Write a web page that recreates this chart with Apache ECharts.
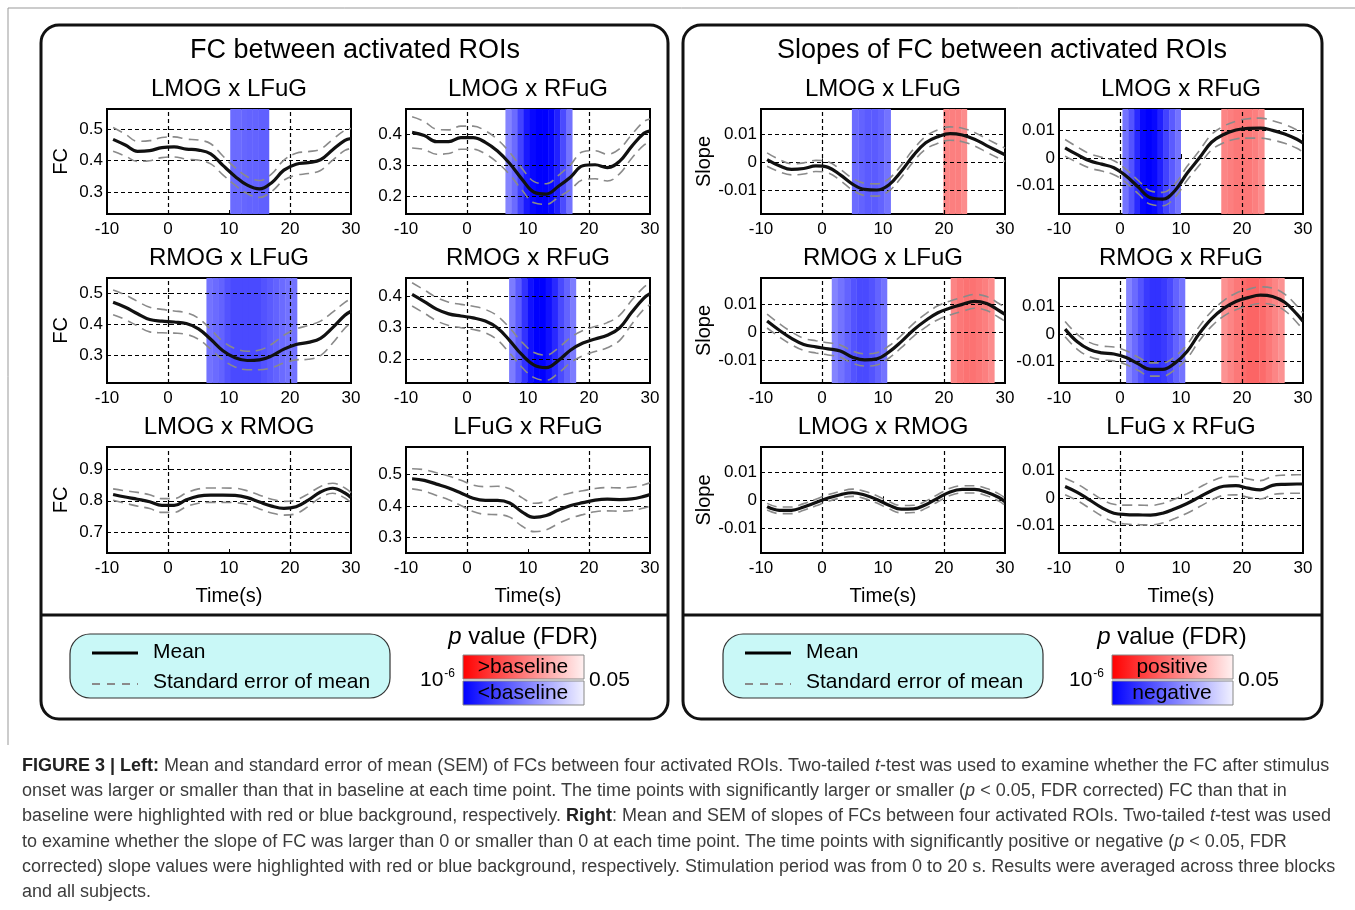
<!DOCTYPE html>
<html>
<head>
<meta charset="utf-8">
<script src="https://cdn.jsdelivr.net/npm/echarts@6/dist/echarts.min.js"></script>
<style>
  body { margin: 0; background: #fff; }
  #chart { position: absolute; left: 0; top: 0; width: 1355px; height: 910px; }
  #caption {
    position: absolute; left: 22px; top: 753px;
    font-family: 'Liberation Sans', Arial, sans-serif;
    font-size: 18px; line-height: 25.2px; color: #3c3c3c;
    white-space: nowrap;
  }
  #caption b { color: #222; }
</style>
</head>
<body>
<div id="chart"></div>
<div id="caption">
  <div><b>FIGURE 3 | Left:</b> Mean and standard error of mean (SEM) of FCs between four activated ROIs. Two-tailed <i>t</i>-test was used to examine whether the FC after stimulus</div>
  <div>onset was larger or smaller than that in baseline at each time point. The time points with significantly larger or smaller (<i>p</i> &lt; 0.05, FDR corrected) FC than that in</div>
  <div>baseline were highlighted with red or blue background, respectively. <b>Right</b>: Mean and SEM of slopes of FCs between four activated ROIs. Two-tailed <i>t</i>-test was used</div>
  <div>to examine whether the slope of FC was larger than 0 or smaller than 0 at each time point. The time points with significantly positive or negative (<i>p</i> &lt; 0.05, FDR</div>
  <div>corrected) slope values were highlighted with red or blue background, respectively. Stimulation period was from 0 to 20 s. Results were averaged across three blocks</div>
  <div>and all subjects.</div>
</div>
<script>
// 时间点 (s)
const times = [-9, -7, -5, -3, -1, 1, 3, 5, 7, 9, 11, 13, 15, 17, 19, 21, 23, 25, 27, 29, 30]
const xTicks = [-10, 0, 10, 20, 30]
const stimLines = [0, 20]

// FC 均值 / SEM
const fcLmogLfug = [0.468, 0.45, 0.43, 0.432, 0.442, 0.444, 0.437, 0.434, 0.422, 0.385, 0.35, 0.322, 0.31, 0.33, 0.37, 0.389, 0.394, 0.403, 0.435, 0.465, 0.471]
const fcLmogLfugSem = [0.038, 0.035, 0.032, 0.032, 0.032, 0.032, 0.032, 0.032, 0.032, 0.03, 0.028, 0.027, 0.027, 0.028, 0.032, 0.035, 0.035, 0.034, 0.033, 0.032, 0.032]
const fcLmogRfug = [0.405, 0.395, 0.375, 0.375, 0.388, 0.388, 0.373, 0.345, 0.305, 0.255, 0.213, 0.207, 0.232, 0.262, 0.298, 0.301, 0.292, 0.312, 0.36, 0.402, 0.41]
const fcLmogRfugSem = [0.05, 0.045, 0.04, 0.038, 0.037, 0.037, 0.037, 0.037, 0.036, 0.035, 0.034, 0.033, 0.035, 0.04, 0.045, 0.045, 0.043, 0.04, 0.038, 0.038, 0.038]
const fcRmogLfug = [0.472, 0.456, 0.435, 0.416, 0.411, 0.408, 0.403, 0.386, 0.352, 0.315, 0.292, 0.283, 0.285, 0.298, 0.32, 0.335, 0.342, 0.355, 0.39, 0.43, 0.443]
const fcRmogLfugSem = [0.04, 0.04, 0.04, 0.04, 0.038, 0.036, 0.035, 0.034, 0.032, 0.03, 0.03, 0.03, 0.032, 0.038, 0.045, 0.05, 0.055, 0.056, 0.05, 0.042, 0.04]
const fcRmogRfug = [0.405, 0.382, 0.358, 0.343, 0.336, 0.33, 0.32, 0.298, 0.258, 0.213, 0.18, 0.172, 0.195, 0.228, 0.25, 0.263, 0.275, 0.298, 0.348, 0.393, 0.407]
const fcRmogRfugSem = [0.037, 0.037, 0.037, 0.037, 0.037, 0.037, 0.037, 0.038, 0.04, 0.04, 0.04, 0.04, 0.04, 0.04, 0.04, 0.04, 0.04, 0.04, 0.038, 0.035, 0.035]
const fcLmogRmog = [0.82, 0.812, 0.805, 0.797, 0.785, 0.785, 0.803, 0.815, 0.818, 0.818, 0.817, 0.81, 0.796, 0.783, 0.776, 0.781, 0.802, 0.828, 0.84, 0.825, 0.81]
const fcLmogRmogSem = [0.018, 0.02, 0.022, 0.022, 0.022, 0.022, 0.022, 0.023, 0.023, 0.023, 0.023, 0.022, 0.022, 0.022, 0.022, 0.022, 0.02, 0.018, 0.016, 0.016, 0.016]
const fcLfugRfug = [0.487, 0.482, 0.47, 0.458, 0.442, 0.425, 0.418, 0.418, 0.41, 0.382, 0.364, 0.37, 0.388, 0.402, 0.411, 0.419, 0.422, 0.421, 0.423, 0.431, 0.437]
const fcLfugRfugSem = [0.032, 0.034, 0.036, 0.038, 0.04, 0.042, 0.044, 0.045, 0.045, 0.045, 0.045, 0.045, 0.043, 0.04, 0.038, 0.037, 0.037, 0.037, 0.037, 0.037, 0.037]

// FC 斜率 均值 / SEM
const slLmogLfug = [0.001, -0.0012, -0.0025, -0.0022, -0.0013, -0.0018, -0.0045, -0.0078, -0.0097, -0.0099, -0.008, -0.0032, 0.0025, 0.007, 0.0092, 0.0103, 0.0098, 0.0083, 0.006, 0.0038, 0.0027]
const slLmogLfugSem = [0.0024, 0.0022, 0.002, 0.002, 0.002, 0.002, 0.002, 0.0021, 0.0022, 0.0022, 0.0022, 0.0022, 0.0022, 0.0023, 0.0024, 0.0024, 0.0024, 0.0024, 0.0024, 0.0024, 0.0024]
const slLmogRfug = [0.0037, 0.0012, -0.001, -0.0022, -0.0035, -0.0065, -0.0105, -0.0143, -0.0148, -0.0118, -0.0055, 0.0, 0.0057, 0.0085, 0.0101, 0.0107, 0.0108, 0.01, 0.0087, 0.0068, 0.0054]
const slLmogRfugSem = [0.003, 0.0028, 0.0026, 0.0025, 0.0025, 0.0024, 0.0024, 0.0024, 0.0024, 0.0024, 0.0025, 0.0026, 0.0028, 0.003, 0.0032, 0.0035, 0.0036, 0.0035, 0.0034, 0.0033, 0.0033]
const slRmogLfug = [0.004, 0.0007, -0.0022, -0.0044, -0.0053, -0.006, -0.0068, -0.009, -0.01, -0.0096, -0.0071, -0.0034, 0.0008, 0.0042, 0.007, 0.0087, 0.01, 0.0111, 0.0103, 0.0078, 0.0064]
const slRmogLfugSem = [0.0025, 0.0024, 0.0023, 0.0022, 0.0022, 0.0022, 0.0022, 0.0022, 0.0022, 0.0022, 0.0022, 0.0022, 0.0023, 0.0024, 0.0025, 0.0025, 0.0025, 0.0025, 0.0025, 0.0025, 0.0025]
const slRmogRfug = [0.0018, -0.0028, -0.0056, -0.0068, -0.0072, -0.0085, -0.0108, -0.0128, -0.0128, -0.0105, -0.0063, 0.0002, 0.0055, 0.0093, 0.0118, 0.0132, 0.0141, 0.0136, 0.0115, 0.0072, 0.0046]
const slRmogRfugSem = [0.0028, 0.0027, 0.0026, 0.0025, 0.0025, 0.0025, 0.0024, 0.0024, 0.0024, 0.0024, 0.0025, 0.0026, 0.0027, 0.0028, 0.003, 0.003, 0.003, 0.003, 0.003, 0.003, 0.003]
const slLmogRmog = [-0.0023, -0.0036, -0.0036, -0.0024, -0.0008, 0.0008, 0.002, 0.0027, 0.0019, 0.0003, -0.0018, -0.0032, -0.0031, -0.0016, 0.0008, 0.003, 0.0039, 0.0039, 0.0029, 0.001, -0.0005]
const slLmogRmogSem = [0.0012, 0.0012, 0.0012, 0.0012, 0.0012, 0.0012, 0.0012, 0.0013, 0.0013, 0.0013, 0.0013, 0.0013, 0.0013, 0.0013, 0.0013, 0.0013, 0.0013, 0.0013, 0.0013, 0.0013, 0.0013]
const slLfugRfug = [0.0041, 0.002, -0.0007, -0.0035, -0.0055, -0.006, -0.0061, -0.0062, -0.0055, -0.0039, -0.002, 0.0003, 0.0026, 0.0042, 0.0044, 0.0035, 0.0029, 0.0045, 0.0049, 0.005, 0.005]
const slLfugRfugSem = [0.003, 0.003, 0.003, 0.003, 0.0032, 0.0034, 0.0035, 0.0035, 0.0035, 0.0035, 0.0035, 0.0035, 0.0034, 0.0033, 0.0033, 0.0033, 0.0033, 0.0033, 0.0033, 0.0033, 0.0033]

// 显著时间段: [起点, 终点] 与每段强度 (0 = p≈0.05, 1 = p≈1e-6)
const fcBlueLmogLfug = { range: [10.2, 16.6], shade: [0.35, 0.35, 0.38, 0.4, 0.4, 0.42, 0.42] }
const fcBlueLmogRfug = { range: [6.3, 17.3], shade: [0.2, 0.35, 0.6, 0.85, 0.95, 1, 1, 0.95, 0.8, 0.55, 0.3] }
const fcBlueRmogLfug = { range: [6.3, 21.2], shade: [0.3, 0.35, 0.4, 0.5, 0.55, 0.55, 0.55, 0.55, 0.55, 0.5, 0.45, 0.4, 0.35, 0.3, 0.3] }
const fcBlueRmogRfug = { range: [6.9, 17.9], shade: [0.25, 0.45, 0.7, 0.9, 1, 1, 0.9, 0.75, 0.55, 0.4, 0.25] }
const slBlueLmogLfug = { range: [4.9, 11.3], shade: [0.35, 0.4, 0.45, 0.45, 0.4, 0.3] }
const slRedLmogLfug = { range: [19.9, 23.8], shade: [0.4, 0.45, 0.45, 0.35] }
const slBlueLmogRfug = { range: [0.4, 10.0], shade: [0.3, 0.5, 0.75, 0.95, 1, 0.95, 0.8, 0.6, 0.45, 0.3] }
const slRedLmogRfug = { range: [16.6, 23.7], shade: [0.4, 0.45, 0.5, 0.5, 0.5, 0.45, 0.35] }
const slBlueRmogLfug = { range: [1.6, 10.7], shade: [0.2, 0.3, 0.4, 0.5, 0.55, 0.55, 0.5, 0.4, 0.3] }
const slRedRmogLfug = { range: [21.1, 28.3], shade: [0.4, 0.5, 0.55, 0.55, 0.5, 0.45, 0.35] }
const slBlueRmogRfug = { range: [1.0, 10.7], shade: [0.2, 0.35, 0.5, 0.65, 0.7, 0.7, 0.65, 0.55, 0.4, 0.3] }
const slRedRmogRfug = { range: [16.6, 27.0], shade: [0.3, 0.4, 0.5, 0.6, 0.65, 0.65, 0.6, 0.5, 0.4, 0.3] }

const fcTicksHigh = [0.3, 0.4, 0.5]
const fcTicksLow = [0.2, 0.3, 0.4]
const fcTicksLR = [0.7, 0.8, 0.9]
const slopeTicks = [-0.01, 0, 0.01]

const FONT = "'Liberation Sans', Arial, sans-serif"
const colLeft = [107, 406, 761, 1059]
const rowTop = [109, 278, 447]
const boxW = 244
const boxH = 105

const panels = [
  { col: 0, row: 0, title: 'LMOG x LFuG', mean: fcLmogLfug, sem: fcLmogLfugSem, y: [0.23, 0.565], ticks: fcTicksHigh, blue: fcBlueLmogLfug, yName: 'FC' },
  { col: 1, row: 0, title: 'LMOG x RFuG', mean: fcLmogRfug, sem: fcLmogRfugSem, y: [0.143, 0.48], ticks: fcTicksLow, blue: fcBlueLmogRfug },
  { col: 0, row: 1, title: 'RMOG x LFuG', mean: fcRmogLfug, sem: fcRmogLfugSem, y: [0.21, 0.551], ticks: fcTicksHigh, blue: fcBlueRmogLfug, yName: 'FC' },
  { col: 1, row: 1, title: 'RMOG x RFuG', mean: fcRmogRfug, sem: fcRmogRfugSem, y: [0.123, 0.457], ticks: fcTicksLow, blue: fcBlueRmogRfug },
  { col: 0, row: 2, title: 'LMOG x RMOG', mean: fcLmogRmog, sem: fcLmogRmogSem, y: [0.633, 0.972], ticks: fcTicksLR, yName: 'FC', xName: 'Time(s)' },
  { col: 1, row: 2, title: 'LFuG x RFuG', mean: fcLfugRfug, sem: fcLfugRfugSem, y: [0.251, 0.588], ticks: fcTicksHigh, xName: 'Time(s)' },
  { col: 2, row: 0, title: 'LMOG x LFuG', mean: slLmogLfug, sem: slLmogLfugSem, y: [-0.0185, 0.0191], ticks: slopeTicks, blue: slBlueLmogLfug, red: slRedLmogLfug, yName: 'Slope' },
  { col: 3, row: 0, title: 'LMOG x RFuG', mean: slLmogRfug, sem: slLmogRfugSem, y: [-0.0202, 0.0177], ticks: slopeTicks, blue: slBlueLmogRfug, red: slRedLmogRfug },
  { col: 2, row: 1, title: 'RMOG x LFuG', mean: slRmogLfug, sem: slRmogLfugSem, y: [-0.0183, 0.0195], ticks: slopeTicks, blue: slBlueRmogLfug, red: slRedRmogLfug, yName: 'Slope' },
  { col: 3, row: 1, title: 'RMOG x RFuG', mean: slRmogRfug, sem: slRmogRfugSem, y: [-0.0177, 0.0203], ticks: slopeTicks, blue: slBlueRmogRfug, red: slRedRmogRfug },
  { col: 2, row: 2, title: 'LMOG x RMOG', mean: slLmogRmog, sem: slLmogRmogSem, y: [-0.0189, 0.0191], ticks: slopeTicks, yName: 'Slope', xName: 'Time(s)' },
  { col: 3, row: 2, title: 'LFuG x RFuG', mean: slLfugRfug, sem: slLfugRfugSem, y: [-0.0198, 0.0183], ticks: slopeTicks, xName: 'Time(s)' }
]

// p 值强度 -> 颜色
const shadeColor = (level, isRed) => {
  const light = Math.round(165 * (1 - level))
  if (isRed) {
    const v = Math.round(55 + 130 * (1 - level))
    return `rgb(252,${v},${v})`
  }
  return `rgb(${light},${light},255)`
}

const bandAreas = (band, isRed) => {
  if (!band) return []
  const [from, to] = band.range
  const w = (to - from) / band.shade.length
  return band.shade.map((lv, k) => [
    { xAxis: from + k * w, itemStyle: { color: shadeColor(lv, isRed) } },
    { xAxis: Math.min(to, from + (k + 1) * w + 0.06) }
  ])
}

const grids = []
const xAxes = []
const yAxes = []
const series = []
const graphics = []

const textStyle = { fontFamily: FONT, color: '#000' }

panels.forEach((p, i) => {
  const left = colLeft[p.col]
  const top = rowTop[p.row]
  grids.push({
    left, top, width: boxW, height: p.row === 2 ? boxH + 1 : boxH,
    show: true, backgroundColor: '#fff', borderColor: '#000', borderWidth: 2
  })
  xAxes.push({
    gridIndex: i, type: 'value', min: -10, max: 30, interval: 10,
    axisLine: { show: false },
    axisTick: { inside: true, length: 4, lineStyle: { color: '#000', width: 1 } },
    axisLabel: { ...textStyle, fontSize: 17, margin: 7 },
    splitLine: { show: false },
    name: p.xName || '', nameLocation: 'middle', nameGap: 33,
    nameTextStyle: { ...textStyle, fontSize: 20 }
  })
  yAxes.push({
    gridIndex: i, type: 'value', min: p.y[0], max: p.y[1],
    axisLine: { show: false },
    axisTick: { inside: true, length: 4, customValues: p.ticks, lineStyle: { color: '#000' } },
    axisLabel: { ...textStyle, fontSize: 17, margin: 4, customValues: p.ticks, formatter: v => String(v) },
    splitLine: { show: false },
    name: p.yName || '', nameLocation: 'middle', nameGap: p.yName === 'Slope' ? 47 : 36,
    nameTextStyle: { ...textStyle, fontSize: 20 }
  })

  const upper = times.map((t, k) => [t, p.mean[k] + p.sem[k]])
  const lower = times.map((t, k) => [t, p.mean[k] - p.sem[k]])
  const semStyle = { color: '#8a8a8a', width: 1.6, type: [10, 6] }

  series.push({
    type: 'line', xAxisIndex: i, yAxisIndex: i, data: upper, smooth: 0.4,
    symbol: 'none', silent: true, z: 3, lineStyle: semStyle,
    markArea: {
      silent: true, z: 1,
      data: bandAreas(p.blue, false).concat(bandAreas(p.red, true))
    },
    markLine: {
      silent: true, z: 2, symbol: ['none', 'none'], label: { show: false },
      lineStyle: { color: '#000', width: 1.2, type: [4, 3] },
      data: p.ticks.map(v => ({ yAxis: v })).concat(stimLines.map(v => ({ xAxis: v })))
    }
  })
  series.push({
    type: 'line', xAxisIndex: i, yAxisIndex: i, data: lower, smooth: 0.4,
    symbol: 'none', silent: true, z: 3, lineStyle: semStyle
  })
  series.push({
    type: 'line', xAxisIndex: i, yAxisIndex: i,
    data: times.map((t, k) => [t, p.mean[k]]), smooth: 0.4,
    symbol: 'none', silent: true, z: 4,
    lineStyle: { color: '#111', width: 3.2 }
  })

  graphics.push({
    type: 'text', x: left + boxW / 2, y: top - 20,
    style: { text: p.title, font: `24px ${FONT}`, fill: '#000', textAlign: 'center', textVerticalAlign: 'middle' }
  })
})

// 外框与分隔线
const frameLine = (x1, y1, x2, y2, stroke, lineWidth) => ({
  type: 'line', shape: { x1, y1, x2, y2 }, style: { stroke, lineWidth }
})
graphics.push(frameLine(8, 8, 1355, 8, '#999', 1))
graphics.push(frameLine(8, 8, 8, 745, '#999', 1))
graphics.push({ type: 'rect', shape: { x: 41, y: 25, width: 627, height: 694, r: 18 }, style: { fill: 'none', stroke: '#111', lineWidth: 3 } })
graphics.push({ type: 'rect', shape: { x: 683, y: 25, width: 639, height: 694, r: 18 }, style: { fill: 'none', stroke: '#111', lineWidth: 3 } })
graphics.push(frameLine(41, 615, 668, 615, '#111', 3))
graphics.push(frameLine(683, 615, 1322, 615, '#111', 3))

graphics.push({ type: 'text', x: 355, y: 51, style: { text: 'FC between activated ROIs', font: `27px ${FONT}`, fill: '#000', textAlign: 'center', textVerticalAlign: 'middle' } })
graphics.push({ type: 'text', x: 1002, y: 51, style: { text: 'Slopes of FC between activated ROIs', font: `27px ${FONT}`, fill: '#000', textAlign: 'center', textVerticalAlign: 'middle' } })

// 图例
const legendBlock = (x0, barX, cbText) => {
  const items = []
  items.push({ type: 'rect', shape: { x: x0, y: 634, width: 320, height: 64, r: 20 }, style: { fill: '#c9f8f7', stroke: '#333', lineWidth: 1.2 } })
  items.push(frameLine(x0 + 22, 653, x0 + 68, 653, '#000', 3))
  items.push({ type: 'line', shape: { x1: x0 + 22, y1: 684, x2: x0 + 68, y2: 684 }, style: { stroke: '#8a8a8a', lineWidth: 2, lineDash: [8, 7] } })
  items.push({ type: 'text', x: x0 + 83, y: 652, style: { text: 'Mean', font: `21px ${FONT}`, fill: '#000', textVerticalAlign: 'middle' } })
  items.push({ type: 'text', x: x0 + 83, y: 682, style: { text: 'Standard error of mean', font: `21px ${FONT}`, fill: '#000', textVerticalAlign: 'middle' } })

  const cx = barX + 60
  items.push({
    type: 'text', x: cx, y: 637,
    style: {
      text: '{i|p} value (FDR)', font: `24px ${FONT}`, fill: '#000', textAlign: 'center', textVerticalAlign: 'middle',
      rich: { i: { fontStyle: 'italic', fontSize: 24, fontFamily: FONT } }
    }
  })
  items.push({
    type: 'rect', shape: { x: barX, y: 655, width: 121, height: 24 },
    style: { stroke: '#888', lineWidth: 1, fill: new echarts.graphic.LinearGradient(0, 0, 1, 0, [{ offset: 0, color: '#ff0000' }, { offset: 1, color: '#fff2f2' }]) }
  })
  items.push({
    type: 'rect', shape: { x: barX, y: 681, width: 121, height: 24 },
    style: { stroke: '#888', lineWidth: 1, fill: new echarts.graphic.LinearGradient(0, 0, 1, 0, [{ offset: 0, color: '#0000ff' }, { offset: 1, color: '#f2f2ff' }]) }
  })
  items.push({ type: 'text', x: cx, y: 667, style: { text: cbText[0], font: `21px ${FONT}`, fill: '#000', textAlign: 'center', textVerticalAlign: 'middle' } })
  items.push({ type: 'text', x: cx, y: 693, style: { text: cbText[1], font: `21px ${FONT}`, fill: '#000', textAlign: 'center', textVerticalAlign: 'middle' } })
  items.push({
    type: 'text', x: barX - 8, y: 680,
    style: {
      text: '10{s|-6}', font: `21px ${FONT}`, fill: '#000', textAlign: 'right', textVerticalAlign: 'middle',
      rich: { s: { fontSize: 12, fontFamily: FONT, verticalAlign: 'top', padding: [0, 0, 12, 1] } }
    }
  })
  items.push({ type: 'text', x: barX + 126, y: 680, style: { text: '0.05', font: `21px ${FONT}`, fill: '#000', textVerticalAlign: 'middle' } })
  return items
}
graphics.push(...legendBlock(70, 463, ['>baseline', '<baseline']))
graphics.push(...legendBlock(723, 1112, ['positive', 'negative']))

const chart = echarts.init(document.getElementById('chart'))
chart.setOption({
  animation: false,
  backgroundColor: '#fff',
  grid: grids,
  xAxis: xAxes,
  yAxis: yAxes,
  series,
  graphic: graphics
})
</script>
</body>
</html>
